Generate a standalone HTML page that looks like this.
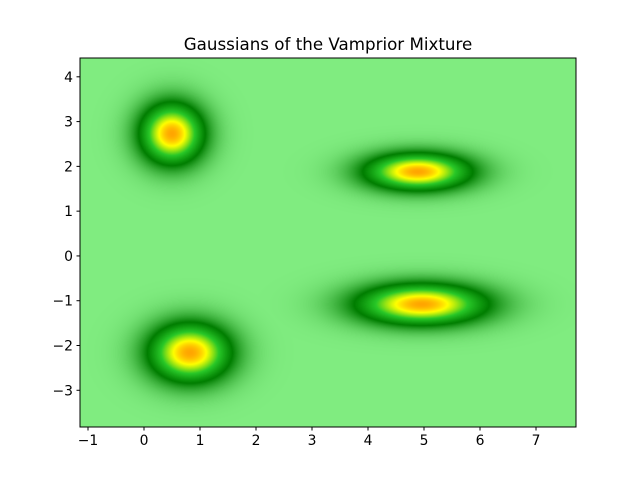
<!DOCTYPE html>
<html><head><meta charset="utf-8"><style>
body{margin:0;background:#fff;font-family:"DejaVu Sans","Liberation Sans",sans-serif}
#wrap{position:relative;width:640px;height:480px}
canvas{position:absolute;left:80px;top:58px}
svg{position:absolute;left:0;top:0;font-family:"DejaVu Sans","Liberation Sans",sans-serif}
</style></head><body>
<div id="wrap">
<canvas id="c" width="496" height="369"></canvas>
<svg id="s" width="640" height="480"></svg>
</div>
<script>
const meanX=[0.5,4.89,4.96,0.82];
const meanY=[2.73,1.88,-1.08,-2.16];
const sigmaX=[0.40,0.66,0.81,0.51];
const sigmaY=[0.48,0.29,0.32,0.46];
const xTicks=[-1,0,1,2,3,4,5,6,7];
const yTicks=[-3,-2,-1,0,1,2,3,4];
const X0=80,Y0=58,W=496,H=369,xmin=-1.143,xmax=7.714,ymin=-3.82,ymax=4.42;
const sx=v=>X0+(v-xmin)/(xmax-xmin)*W;
const sy=v=>Y0+(ymax-v)/(ymax-ymin)*H;
const stops=[[0,[128,236,128]],[0.33,[0,125,0]],[0.6,[40,200,40]],[0.85,[255,255,0]],[1,[255,165,0]]];
function cmap(t){for(let i=1;i<stops.length;i++){if(t<=stops[i][0]){const a=stops[i-1],b=stops[i],f=(t-a[0])/(b[0]-a[0]);return a[1].map((v,k)=>v+(b[1][k]-v)*f);}}return stops[stops.length-1][1];}
const ctx=document.getElementById('c').getContext('2d');
const img=ctx.createImageData(W,H);
for(let j=0;j<H;j++){const y=ymax-(j+0.5)/H*(ymax-ymin);
for(let i=0;i<W;i++){const x=xmin+(i+0.5)/W*(xmax-xmin);let t=0;
for(let k=0;k<meanX.length;k++){const dx=(x-meanX[k])/sigmaX[k],dy=(y-meanY[k])/sigmaY[k];t=Math.max(t,Math.exp(-(dx*dx+dy*dy)/2));}
const c=cmap(t),p=(j*W+i)*4;img.data[p]=c[0];img.data[p+1]=c[1];img.data[p+2]=c[2];img.data[p+3]=255;}}
ctx.putImageData(img,0,0);
const s=document.getElementById('s'),NS='http://www.w3.org/2000/svg';
function el(tag,at,txt){const e=document.createElementNS(NS,tag);for(const k in at)e.setAttribute(k,at[k]);if(txt!==undefined)e.textContent=txt;s.appendChild(e);return e;}
const fr=el('rect',{x:X0,y:Y0,width:W,height:H,fill:'none',stroke:'#000','stroke-width':1});


xTicks.forEach(v=>{const x=sx(v);
const l=el('line',{x1:x,x2:x,y1:Y0+H,y2:Y0+H+3.5,stroke:'#000'});


const t=el('text',{x:x,y:Y0+H+18,'font-size':13.9,'text-anchor':'middle'},v<0?'\u2212'+(-v):v);

});
yTicks.forEach(v=>{const y=sy(v);
const l=el('line',{x1:X0-3.5,x2:X0,y1:y,y2:y,stroke:'#000'});


const t=el('text',{x:X0-7,y:y+5,'font-size':13.9,'text-anchor':'end'},v<0?'\u2212'+(-v):v);

});
const ti=el('text',{x:X0+W/2,y:Y0-8,'font-size':16.7,'text-anchor':'middle'},'Gaussians of the Vamprior Mixture');


</script>
</body></html>
